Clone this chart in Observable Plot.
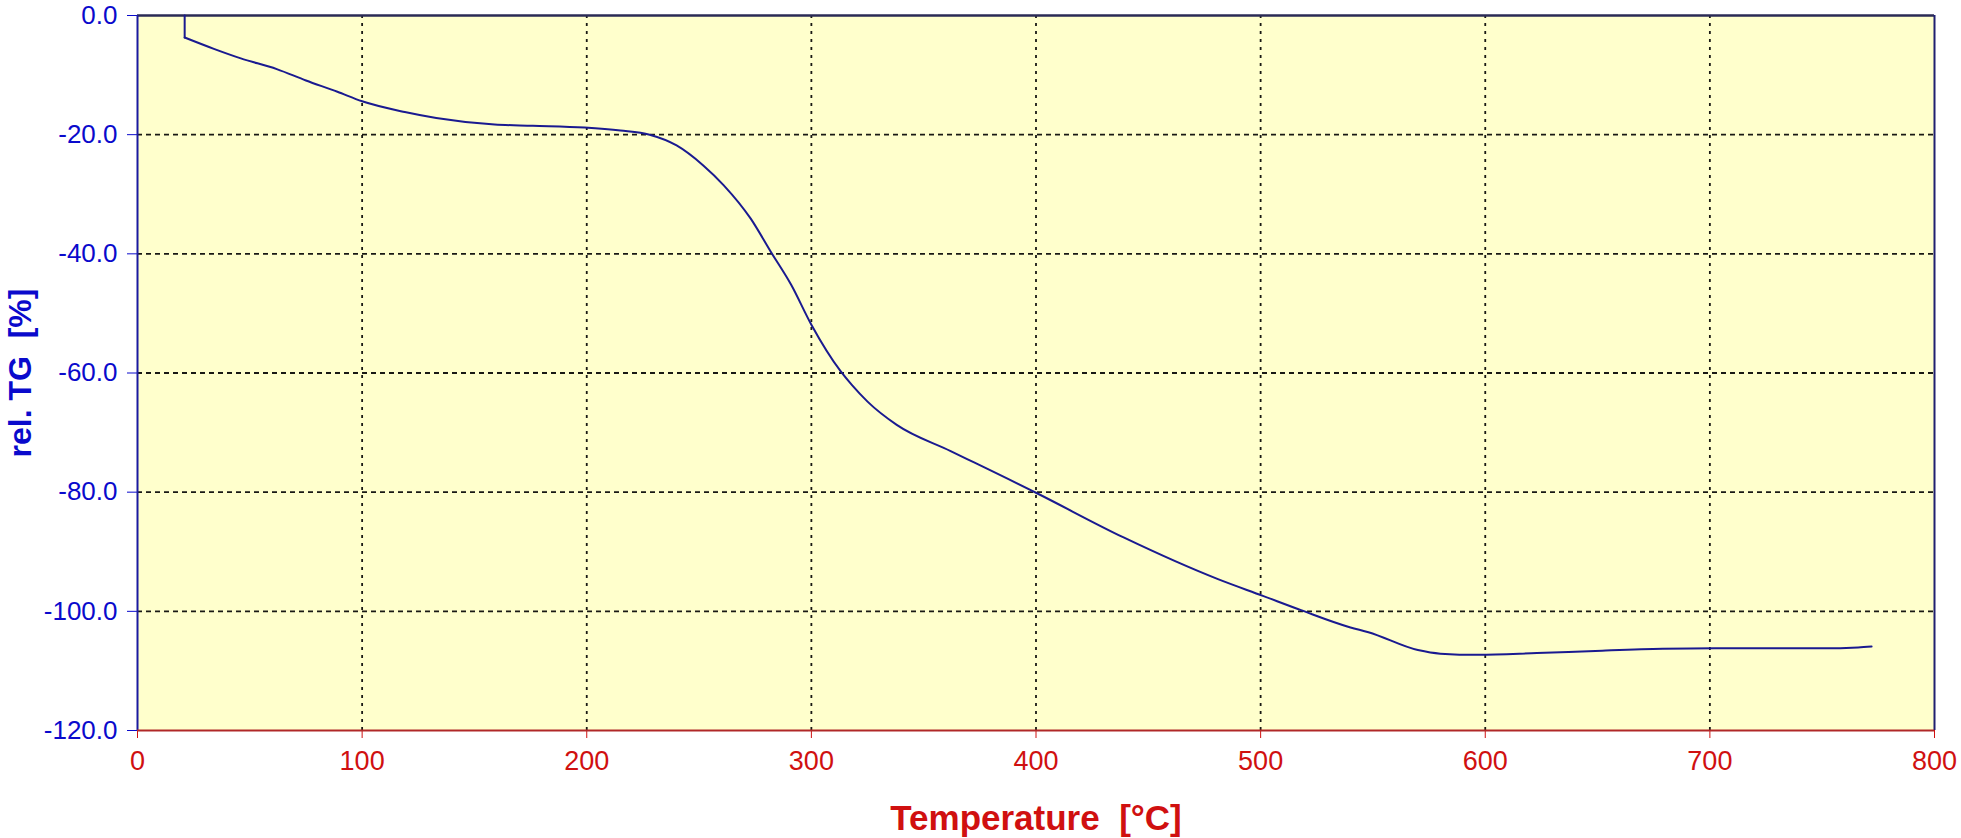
<!DOCTYPE html>
<html>
<head>
<meta charset="utf-8">
<script src="https://cdn.jsdelivr.net/npm/d3@7"></script>
<script src="https://cdn.jsdelivr.net/npm/@observablehq/plot@0.6"></script>
<style>
  html, body { margin: 0; padding: 0; background: #ffffff; }
</style>
</head>
<body>
<div id="chart"></div>
<script>
// Temperature [°C]
const temperature = [21, 21, 34, 46, 62, 75, 89, 100, 119, 133, 159, 176, 199, 215, 228, 240, 252, 261, 273, 282, 291, 300, 313, 318, 325, 338, 362, 400, 439, 481, 501, 518, 540, 548, 570, 580, 597, 623, 652, 679, 702, 750, 766, 772];
// rel. TG [%]
const relTG = [0, -3.7, -5.6, -7.2, -9.0, -10.9, -12.8, -14.4, -16.2, -17.2, -18.3, -18.5, -18.8, -19.3, -20.0, -21.8, -25.2, -28.5, -34.1, -39.7, -45.2, -51.9, -59.7, -62.0, -64.8, -68.7, -73.1, -80.1, -87.6, -94.6, -97.4, -99.8, -102.7, -103.5, -106.5, -107.1, -107.3, -107.0, -106.6, -106.3, -106.2, -106.2, -106.05, -105.9];

const xTicks = [0, 100, 200, 300, 400, 500, 600, 700, 800];
const yTicks = [0, -20, -40, -60, -80, -100, -120];
const yTickLabels = ["0.0", "-20.0", "-40.0", "-60.0", "-80.0", "-100.0", "-120.0"];
const xTitle = "Temperature\u00a0\u00a0[°C]";
const yTitle = "rel.\u00a0TG\u00a0\u00a0[%]";

const data = temperature.map((t, i) => ({t, v: relTG[i]}));

const blue = "#0a0acc";
const red = "#d01010";

const chart = Plot.plot({
  width: 1961,
  height: 838,
  marginLeft: 137,
  marginRight: 27,
  marginTop: 15,
  marginBottom: 108,
  style: {fontFamily: "'Liberation Sans', Arial, sans-serif", fontSize: "26px", background: "#ffffff"},
  x: {domain: [0, 800]},
  y: {domain: [-120, 0]},
  marks: [
    Plot.frame({fill: "#ffffcc", stroke: null}),
    Plot.gridX(xTicks.slice(1, -1), {stroke: "#000000", strokeOpacity: 0.9, strokeWidth: 1.8, strokeDasharray: "3,5"}),
    Plot.gridY(yTicks.slice(1, -1), {stroke: "#000000", strokeOpacity: 0.9, strokeWidth: 1.8, strokeDasharray: "5,4"}),
    Plot.axisY({ticks: yTicks, tickFormat: d => yTickLabels[yTicks.indexOf(d)], tickSize: 10, tickPadding: 10, color: blue, label: null, fontSize: 26}),
    Plot.axisX({ticks: xTicks, tickFormat: d => String(d), tickSize: 8, tickPadding: 12, color: red, label: null, fontSize: 27}),
    Plot.ruleY([0], {stroke: "#2a2a55", strokeWidth: 2.5}),
    Plot.ruleX([800], {stroke: "#202070", strokeWidth: 2}),
    Plot.ruleX([0], {stroke: "#1a1aa0", strokeWidth: 2}),
    Plot.ruleY([-120], {stroke: "#b02828", strokeWidth: 2}),
    Plot.line(data.slice(0, 2), {x: "t", y: "v", stroke: "#1a1a90", strokeWidth: 2}),
    Plot.line(data.slice(1), {x: "t", y: "v", stroke: "#1a1a90", strokeWidth: 2, curve: "monotone-x"}),
    Plot.text([xTitle], {frameAnchor: "bottom", dy: 99, lineAnchor: "bottom", textAnchor: "middle", fill: red, fontWeight: "bold", fontSize: 35}),
    Plot.text([yTitle], {frameAnchor: "left", dx: -117, rotate: -90, lineAnchor: "middle", textAnchor: "middle", fill: blue, fontWeight: "bold", fontSize: 32})
  ]
});
document.getElementById("chart").appendChild(chart);
</script>
</body>
</html>
